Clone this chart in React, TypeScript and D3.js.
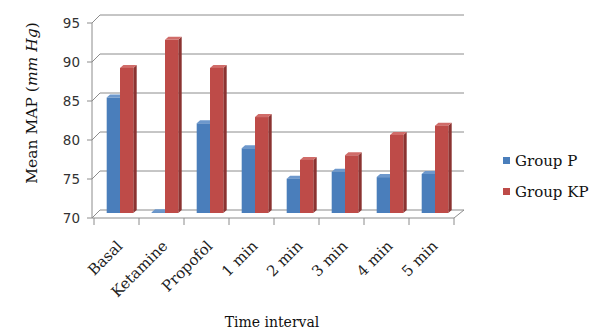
import React from "react";
import * as d3 from "d3";

const categories = ["Basal", "Ketamine", "Propofol", "1 min", "2 min", "3 min", "4 min", "5 min"];
const groupP = [84.8, 70.1, 81.5, 78.3, 74.4, 75.3, 74.6, 75.0];
const groupKP = [88.6, 92.2, 88.6, 82.3, 76.8, 77.4, 80.0, 81.2];
const yTicks = [70, 75, 80, 85, 90, 95];
const seriesNames = ["Group P", "Group KP"];

const W = 592, H = 334;
const font = "'DejaVu Serif', serif";
const sans = "'DejaVu Sans', sans-serif";
const colors = [
  { front: "#4A7EBB", side: "#2F5B8E", top: "#6D98CC" },
  { front: "#BE4B48", side: "#8B3331", top: "#D06C69" },
];

export default function App() {
  const yBack = d3.scaleLinear().domain([70, 95]).range([210, 15]);
  const wallDy = 8;
  const barDy = 3;
  const x = d3.scaleBand<string>().domain(categories).range([94, 454]).paddingInner(0).paddingOuter(0);
  const barW = 13.3;
  const depthX = 3.4, depthY = 3;
  const gridColor = "#8c8c8c";

  const backLeft = 100;
  const backRight = 464;
  const frontLeft = 92;

  const bars: JSX.Element[] = [];
  categories.forEach((c, i) => {
    [groupP[i], groupKP[i]].forEach((v, s) => {
      const x0 = (x(c) as number) + 12.7 + s * barW;
      const yb = yBack(70) + barDy;
      const yt = yBack(v) + barDy;
      const col = colors[s];
      bars.push(
        <g key={c + s}>
          <polygon
            points={`${x0 + barW},${yt} ${x0 + barW + depthX},${yt - depthY} ${x0 + barW + depthX},${yb - depthY} ${x0 + barW},${yb}`}
            fill={col.side}
          />
          <polygon
            points={`${x0},${yt} ${x0 + depthX},${yt - depthY} ${x0 + barW + depthX},${yt - depthY} ${x0 + barW},${yt}`}
            fill={col.top}
          />
          <rect x={x0} y={yt} width={barW} height={Math.max(0.5, yb - yt)} fill={col.front} />
        </g>
      );
    });
  });

  return (
    <svg width={W} height={H} style={{ position: "absolute", left: 0, top: 0, background: "#fff" }}>
      {yTicks.map((t) => (
        <g key={t}>
          <line x1={backLeft} x2={backRight} y1={yBack(t)} y2={yBack(t)} stroke={gridColor} strokeWidth={1} />
          <line x1={frontLeft} x2={backLeft} y1={yBack(t) + wallDy} y2={yBack(t)} stroke={gridColor} strokeWidth={1} />
          <line x1={frontLeft - 5} x2={frontLeft} y1={yBack(t) + wallDy} y2={yBack(t) + wallDy} stroke={gridColor} strokeWidth={1} />
          <text x={frontLeft - 12} y={yBack(t) + wallDy} dy="0.35em" textAnchor="end" fontFamily={sans} fontSize={13.5} fill="#333">
            {t}
          </text>
        </g>
      ))}
      <line x1={frontLeft} x2={frontLeft} y1={yBack(95) + wallDy} y2={yBack(70) + wallDy} stroke={gridColor} />
      <line x1={frontLeft} x2={454} y1={yBack(70) + wallDy} y2={yBack(70) + wallDy} stroke={gridColor} />
      <line x1={454} x2={backRight} y1={yBack(70) + wallDy} y2={yBack(70)} stroke={gridColor} />
      {[...categories.map((c) => x(c) as number), 454].map((tx, i) => (
        <line key={i} x1={tx} x2={tx} y1={yBack(70) + wallDy} y2={yBack(70) + wallDy + 7} stroke={gridColor} />
      ))}
      {bars}
      {categories.map((c) => {
        const cx = (x(c) as number) + x.bandwidth() / 2 + 7;
        const cy = 247;
        return (
          <text key={c} x={cx} y={cy} transform={`rotate(-45 ${cx} ${cy})`} textAnchor="end" fontFamily={font} fontSize={15} fill="#222">
            {c}
          </text>
        );
      })}
      <text x={272} y={327} textAnchor="middle" fontFamily={font} fontSize={14} fill="#111">
        Time interval
      </text>
      <text x={0} y={0} transform="translate(37,103) rotate(-90)" textAnchor="middle" fontFamily={font} fontSize={15.5} fill="#111">
        Mean MAP (<tspan fontStyle="italic">mm Hg</tspan>)
      </text>
      {seriesNames.map((n, i) => (
        <g key={n} transform={`translate(503, ${157 + i * 31})`}>
          <rect x={0} y={0} width={7} height={7} fill={colors[i].front} />
          <text x={12} y={4} dy="0.35em" fontFamily={font} fontSize={15} fill="#111">
            {n}
          </text>
        </g>
      ))}
    </svg>
  );
}
